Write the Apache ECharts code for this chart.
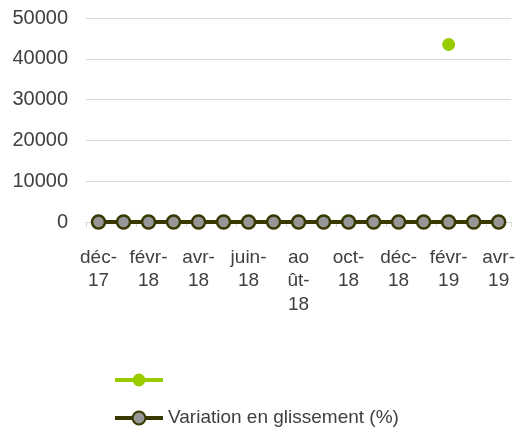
<!DOCTYPE html>
<html>
<head>
<meta charset="utf-8">
<script src="https://cdn.jsdelivr.net/npm/echarts@6/dist/echarts.min.js"></script>
<style>
  html, body { margin: 0; padding: 0; background: #fff; }
  #main { width: 518px; height: 435px; }
</style>
</head>
<body>
<div id="main"></div>
<script>
// mois (déc-17 .. avr-19)
var categories = ['déc-17', 'janv-18', 'févr-18', 'mars-18', 'avr-18', 'mai-18', 'juin-18', 'juil-18',
  'août-18', 'sept-18', 'oct-18', 'nov-18', 'déc-18', 'janv-19', 'févr-19', 'mars-19', 'avr-19'];
// étiquettes telles qu'elles sont coupées sur l'axe
var tickLabels = ['déc-\n17', 'janv-\n18', 'févr-\n18', 'mars-\n18', 'avr-\n18', 'mai-\n18', 'juin-\n18', 'juil-\n18',
  'ao\nût-\n18', 'sept-\n18', 'oct-\n18', 'nov-\n18', 'déc-\n18', 'janv-\n19', 'févr-\n19', 'mars-\n19', 'avr-\n19'];
var seriesA = [null, null, null, null, null, null, null, null, null, null, null, null, null, null, 43500, null, null];
var variation = [0, 0, 0, 0, 0, 0, 0, 0, 0, 0, 0, 0, 0, 0, 0, 0, 0];
var yTicks = [0, 10000, 20000, 30000, 40000, 50000];

var myChart = echarts.init(document.getElementById('main'));
myChart.setOption({
  animation: false,
  textStyle: { fontFamily: 'Liberation Sans, Arial, sans-serif' },
  grid: { left: 86, right: 6, top: 18, bottom: 213 },
  xAxis: {
    type: 'category',
    data: categories,
    boundaryGap: true,
    axisLine: { lineStyle: { color: '#d9d9d9', width: 1 } },
    axisTick: { show: true, interval: 1, length: 5, lineStyle: { color: '#d9d9d9' } },
    axisLabel: {
      interval: 1,
      margin: 24,
      color: '#404040',
      fontSize: 19,
      lineHeight: 23.5,
      formatter: function (v, i) { return tickLabels[i]; }
    }
  },
  yAxis: {
    type: 'value',
    min: yTicks[0],
    max: yTicks[yTicks.length - 1],
    interval: 10000,
    axisLine: { show: false },
    axisTick: { show: false },
    splitLine: { lineStyle: { color: '#d9d9d9', width: 1 } },
    axisLabel: { color: '#404040', fontSize: 20, margin: 18, formatter: function (v) { return String(v); } }
  },
  legend: {
    orient: 'vertical',
    left: 113,
    top: 370,
    padding: 0,
    itemGap: 18,
    itemWidth: 48,
    itemHeight: 16,
    lineStyle: { width: 4 },
    textStyle: { color: '#404040', fontSize: 19, lineHeight: 20 },
    data: [' ', 'Variation en glissement (%)']
  },
  series: [
    {
      name: ' ',
      type: 'line',
      data: seriesA,
      symbol: 'circle',
      symbolSize: 13,
      itemStyle: { color: '#99cc00' },
      lineStyle: { color: '#99cc00', width: 4 }
    },
    {
      name: 'Variation en glissement (%)',
      type: 'line',
      data: variation,
      symbol: 'circle',
      symbolSize: 13,
      itemStyle: { color: '#969696', borderColor: '#383800', borderWidth: 2.5 },
      lineStyle: { color: '#383800', width: 4 }
    }
  ]
});
</script>
</body>
</html>
